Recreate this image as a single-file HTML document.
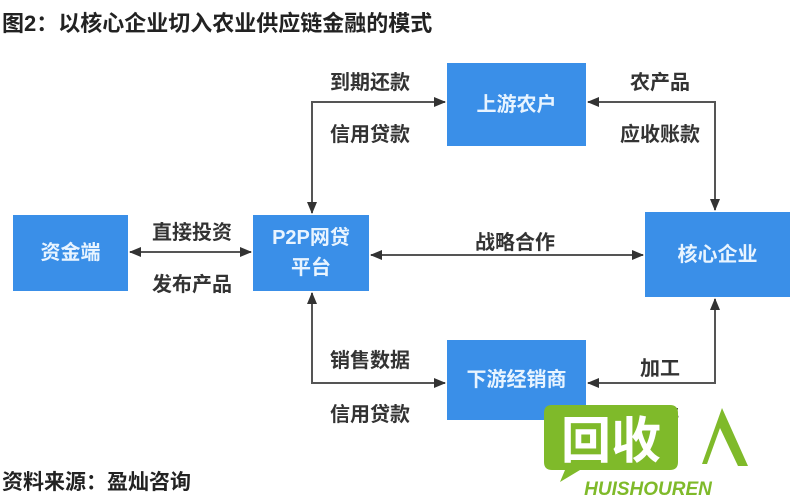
<!DOCTYPE html>
<html><head><meta charset="utf-8"><style>
body{margin:0;width:800px;height:500px;background:#fff;overflow:hidden;position:relative;font-family:"Liberation Sans","Noto Sans CJK SC",sans-serif;}
.t{position:absolute;color:#333;font-weight:bold;font-size:20px;white-space:nowrap;}
.b{position:absolute;background:#3a8fe8;color:#e8f4ff;font-weight:bold;font-size:20px;display:flex;align-items:center;justify-content:center;text-align:center;line-height:30px;}
</style></head><body>
<div class="t" style="left:2px;top:6px;font-size:22px;color:#222">图2：以核心企业切入农业供应链金融的模式</div>
<svg width="800" height="500" style="position:absolute;left:0;top:0">
<defs><marker id="a" markerWidth="12" markerHeight="12" refX="11" refY="6" orient="auto-start-reverse" markerUnits="userSpaceOnUse"><path d="M0,1 L12,6 L0,11 Z" fill="#333"/></marker></defs>
<g stroke="#555" stroke-width="2" fill="none">
<path d="M312,213 V102 H445" marker-start="url(#a)" marker-end="url(#a)"/>
<path d="M588,102 H715 V210" marker-start="url(#a)" marker-end="url(#a)"/>
<path d="M371,255 H643" marker-start="url(#a)" marker-end="url(#a)"/>
<path d="M130,252 H251" marker-start="url(#a)" marker-end="url(#a)"/>
<path d="M312,293 V383 H445" marker-start="url(#a)" marker-end="url(#a)"/>
<path d="M588,383 H715 V299" marker-start="url(#a)" marker-end="url(#a)"/>
</g></svg>
<div class="b" style="left:13px;top:215px;width:115px;height:76px">资金端</div>
<div class="b" style="left:253px;top:215px;width:116px;height:76px">P2P网贷<br>平台</div>
<div class="b" style="left:447px;top:63px;width:139px;height:83px">上游农户</div>
<div class="b" style="left:645px;top:212px;width:145px;height:85px">核心企业</div>
<div class="b" style="left:447px;top:340px;width:139px;height:80px">下游经销商</div>
<div class="t" style="left:330px;top:66px">到期还款</div>
<div class="t" style="left:330px;top:118px">信用贷款</div>
<div class="t" style="left:630px;top:66px">农产品</div>
<div class="t" style="left:620px;top:118px">应收账款</div>
<div class="t" style="left:152px;top:216px">直接投资</div>
<div class="t" style="left:152px;top:268px">发布产品</div>
<div class="t" style="left:475px;top:226px">战略合作</div>
<div class="t" style="left:330px;top:344px">销售数据</div>
<div class="t" style="left:330px;top:398px">信用贷款</div>
<div class="t" style="left:640px;top:352px">加工</div>
<div class="t" style="left:640px;top:400px">销售</div>
<div class="t" style="left:2px;top:466px;font-size:21px;color:#222">资料来源：盈灿咨询</div>
<svg width="800" height="500" style="position:absolute;left:0;top:0">
<path d="M552,405 H670 Q678,405 678,413 V462 Q678,470 670,470 H580 L560,482 L565,470 H552 Q544,470 544,462 V413 Q544,405 552,405Z" fill="#7fba2a"/>
<text x="611" y="458" font-family="Liberation Sans,Noto Sans CJK SC,sans-serif" font-weight="bold" font-size="50" fill="#fff" text-anchor="middle">回收</text>
<path d="M722,408 L702,464 L707,464 L720,428 L738,466 L748,466 Z" fill="#7fba2a"/>
<text x="648" y="495" font-family="Liberation Sans,sans-serif" font-weight="bold" font-style="italic" font-size="19" fill="#7fba2a" text-anchor="middle">HUISHOUREN</text>
</svg>
</body></html>
